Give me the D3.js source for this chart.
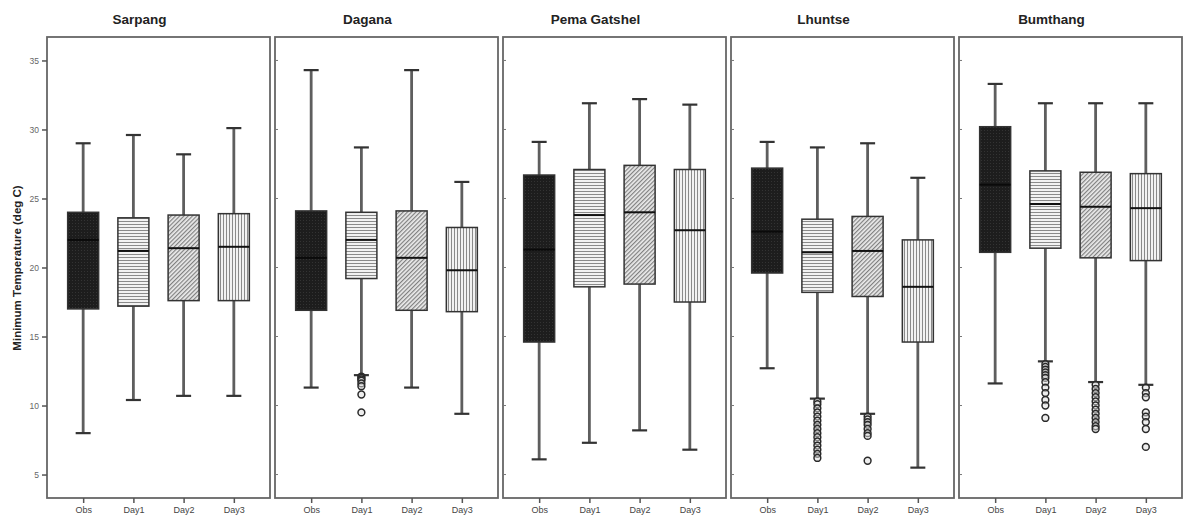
<!DOCTYPE html>
<head>
<meta charset="utf-8">
<script src="https://d3js.org/d3.v7.min.js"></script>
<style>
  body { margin: 0; background: #fff; }
  text { font-family: "Liberation Sans", Arial, sans-serif; }
</style>
</head>
<body>
<div id="my_dataviz"></div>
<script>
// stations (panels) and forecast groups
var stations = ["Sarpang", "Dagana", "Pema Gatshel", "Lhuntse", "Bumthang"];
var groups = ["Obs", "Day1", "Day2", "Day3"];
var yTicks = [5, 10, 15, 20, 25, 30, 35];

// box statistics, one row per station, one value per group
var whiskerHigh = [
  [29.0, 29.6, 28.2, 30.1],
  [34.3, 28.7, 34.3, 26.2],
  [29.1, 31.9, 32.2, 31.8],
  [29.1, 28.7, 29.0, 26.5],
  [33.3, 31.9, 31.9, 31.9]
];
var q3 = [
  [24.0, 23.6, 23.8, 23.9],
  [24.1, 24.0, 24.1, 22.9],
  [26.7, 27.1, 27.4, 27.1],
  [27.2, 23.5, 23.7, 22.0],
  [30.2, 27.0, 26.9, 26.8]
];
var median = [
  [22.0, 21.2, 21.4, 21.5],
  [20.7, 22.0, 20.7, 19.8],
  [21.3, 23.8, 24.0, 22.7],
  [22.6, 21.1, 21.2, 18.6],
  [26.0, 24.6, 24.4, 24.3]
];
var q1 = [
  [17.0, 17.2, 17.6, 17.6],
  [16.9, 19.2, 16.9, 16.8],
  [14.6, 18.6, 18.8, 17.5],
  [19.6, 18.2, 17.9, 14.6],
  [21.1, 21.4, 20.7, 20.5]
];
var whiskerLow = [
  [8.0, 10.4, 10.7, 10.7],
  [11.3, 12.2, 11.3, 9.4],
  [6.1, 7.3, 8.2, 6.8],
  [12.7, 10.5, 9.4, 5.5],
  [11.6, 13.2, 11.7, 11.5]
];
var outliers = [
  [[], [], [], []],
  [[], [12.1, 12.0, 11.9, 11.8, 11.6, 11.4, 10.8, 9.5], [], []],
  [[], [], [], []],
  [[], [10.3, 10.1, 9.8, 9.5, 9.2, 8.9, 8.6, 8.3, 8.0, 7.7, 7.4, 7.1, 6.8, 6.5, 6.2],
       [9.2, 9.0, 8.8, 8.6, 8.3, 8.0, 7.8, 6.0], []],
  [[], [13.0, 12.8, 12.6, 12.4, 12.2, 12.0, 11.7, 11.3, 10.9, 10.4, 10.0, 9.1],
       [11.5, 11.2, 10.9, 10.6, 10.3, 10.0, 9.7, 9.4, 9.1, 8.8, 8.5, 8.3],
       [11.3, 10.9, 10.6, 9.5, 9.2, 8.8, 8.3, 7.0]]
];

var W = 1185, H = 525;
var panelLeft = 47, panelW = 223, panelGap = 5;
var plotTop = 37, plotBottom = 498;

var svg = d3.select("#my_dataviz")
  .append("svg")
  .attr("width", W)
  .attr("height", H);

// fill patterns
var defs = svg.append("defs");
var pObs = defs.append("pattern").attr("id", "pObs")
  .attr("width", 3).attr("height", 3).attr("patternUnits", "userSpaceOnUse");
pObs.append("rect").attr("width", 3).attr("height", 3).attr("fill", "#1d1d1d");
pObs.append("rect").attr("x", 1).attr("y", 1).attr("width", 1).attr("height", 1).attr("fill", "#333");

var pD1 = defs.append("pattern").attr("id", "pDay1")
  .attr("width", 4).attr("height", 3).attr("patternUnits", "userSpaceOnUse");
pD1.append("rect").attr("width", 4).attr("height", 3).attr("fill", "#f2f2f2");
pD1.append("rect").attr("y", 2).attr("width", 4).attr("height", 1).attr("fill", "#8a8a8a");

var pD2 = defs.append("pattern").attr("id", "pDay2")
  .attr("width", 3).attr("height", 3).attr("patternUnits", "userSpaceOnUse")
  .attr("patternTransform", "rotate(45)");
pD2.append("rect").attr("width", 3).attr("height", 3).attr("fill", "#ececec");
pD2.append("rect").attr("width", 1.2).attr("height", 3).attr("fill", "#808080");

var pD3 = defs.append("pattern").attr("id", "pDay3")
  .attr("width", 3).attr("height", 4).attr("patternUnits", "userSpaceOnUse");
pD3.append("rect").attr("width", 3).attr("height", 4).attr("fill", "#f2f2f2");
pD3.append("rect").attr("x", 2).attr("width", 1).attr("height", 4).attr("fill", "#8a8a8a");

var fills = { "Obs": "url(#pObs)", "Day1": "url(#pDay1)", "Day2": "url(#pDay2)", "Day3": "url(#pDay3)" };

// shared Y scale
var y = d3.scaleLinear()
  .domain([3.3, 36.7])
  .range([plotBottom, plotTop]);

var boxWidth = 31, capWidth = 15;

stations.forEach(function(name, si) {
  var x0 = panelLeft + si * (panelW + panelGap);
  var g = svg.append("g").attr("transform", "translate(" + x0 + ",0)");

  var x = d3.scalePoint()
    .domain(groups)
    .range([0, panelW])
    .padding(0.72);

  // title
  svg.append("text")
    .attr("x", x0 + panelW / 2 - 19)
    .attr("y", 24)
    .attr("text-anchor", "middle")
    .style("font-size", "13.5px")
    .style("font-weight", "bold")
    .attr("fill", "#222")
    .text(name);

  // frame
  g.append("rect")
    .attr("x", 0).attr("y", plotTop)
    .attr("width", panelW).attr("height", plotBottom - plotTop)
    .attr("fill", "none")
    .attr("stroke", "#666")
    .attr("stroke-width", 1.8);

  // x axis
  var xa = g.append("g")
    .attr("transform", "translate(0," + plotBottom + ")")
    .call(d3.axisBottom(x).tickSize(5).tickPadding(4));
  xa.select(".domain").remove();
  xa.selectAll("line").attr("stroke", "#555").attr("stroke-width", 1.5);
  xa.selectAll("text").style("font-size", "9px").attr("fill", "#444")
    .style("font-family", "'Liberation Sans', Arial, sans-serif");

  // y axis
  if (si === 0) {
    var ya = g.append("g")
      .call(d3.axisLeft(y).tickValues(yTicks).tickSize(5).tickPadding(3));
    ya.select(".domain").remove();
    ya.selectAll("line").attr("stroke", "#555").attr("stroke-width", 1.5);
    ya.selectAll("text").style("font-size", "8.5px").attr("fill", "#666")
      .style("font-family", "'Liberation Sans', Arial, sans-serif");
  } else {
    g.selectAll("ytick")
      .data(yTicks)
      .enter()
      .append("line")
      .attr("x1", 1).attr("x2", 3)
      .attr("y1", function(d) { return y(d); })
      .attr("y2", function(d) { return y(d); })
      .attr("stroke", "#777");
  }

  // whiskers
  g.selectAll("vertLines")
    .data(groups)
    .enter()
    .append("line")
    .attr("x1", function(d) { return x(d); })
    .attr("x2", function(d) { return x(d); })
    .attr("y1", function(d, i) { return y(whiskerLow[si][i]); })
    .attr("y2", function(d, i) { return y(whiskerHigh[si][i]); })
    .attr("stroke", "#5e5e5e")
    .attr("stroke-width", 2.8);

  // whisker caps
  groups.forEach(function(d, i) {
    [whiskerLow[si][i], whiskerHigh[si][i]].forEach(function(v) {
      g.append("line")
        .attr("x1", x(d) - capWidth / 2)
        .attr("x2", x(d) + capWidth / 2)
        .attr("y1", y(v))
        .attr("y2", y(v))
        .attr("stroke", "#333")
        .attr("stroke-width", 2.2);
    });
  });

  // boxes
  g.selectAll("boxes")
    .data(groups)
    .enter()
    .append("rect")
    .attr("x", function(d) { return x(d) - boxWidth / 2; })
    .attr("y", function(d, i) { return y(q3[si][i]); })
    .attr("height", function(d, i) { return y(q1[si][i]) - y(q3[si][i]); })
    .attr("width", boxWidth)
    .attr("fill", function(d) { return fills[d]; })
    .attr("stroke", "#333")
    .attr("stroke-width", 1.5);

  // medians
  g.selectAll("medianLines")
    .data(groups)
    .enter()
    .append("line")
    .attr("x1", function(d) { return x(d) - boxWidth / 2; })
    .attr("x2", function(d) { return x(d) + boxWidth / 2; })
    .attr("y1", function(d, i) { return y(median[si][i]); })
    .attr("y2", function(d, i) { return y(median[si][i]); })
    .attr("stroke", function(d) { return d === "Obs" ? "#0a0a0a" : "#111"; })
    .attr("stroke-width", 2);

  // outliers
  groups.forEach(function(d, i) {
    g.selectAll("outl")
      .data(outliers[si][i])
      .enter()
      .append("circle")
      .attr("cx", x(d))
      .attr("cy", function(v) { return y(v); })
      .attr("r", 3.4)
      .attr("fill", "#ddd")
      .attr("fill-opacity", 0.5)
      .attr("stroke", "#2a2a2a")
      .attr("stroke-width", 1.5);
  });
});

// y axis title
svg.append("text")
  .attr("transform", "translate(21," + 268 + ") rotate(-90)")
  .attr("text-anchor", "middle")
  .style("font-size", "11.5px")
  .style("font-weight", "bold")
  .attr("fill", "#222")
  .text("Minimum Temperature (deg C)");
</script>
</body>
